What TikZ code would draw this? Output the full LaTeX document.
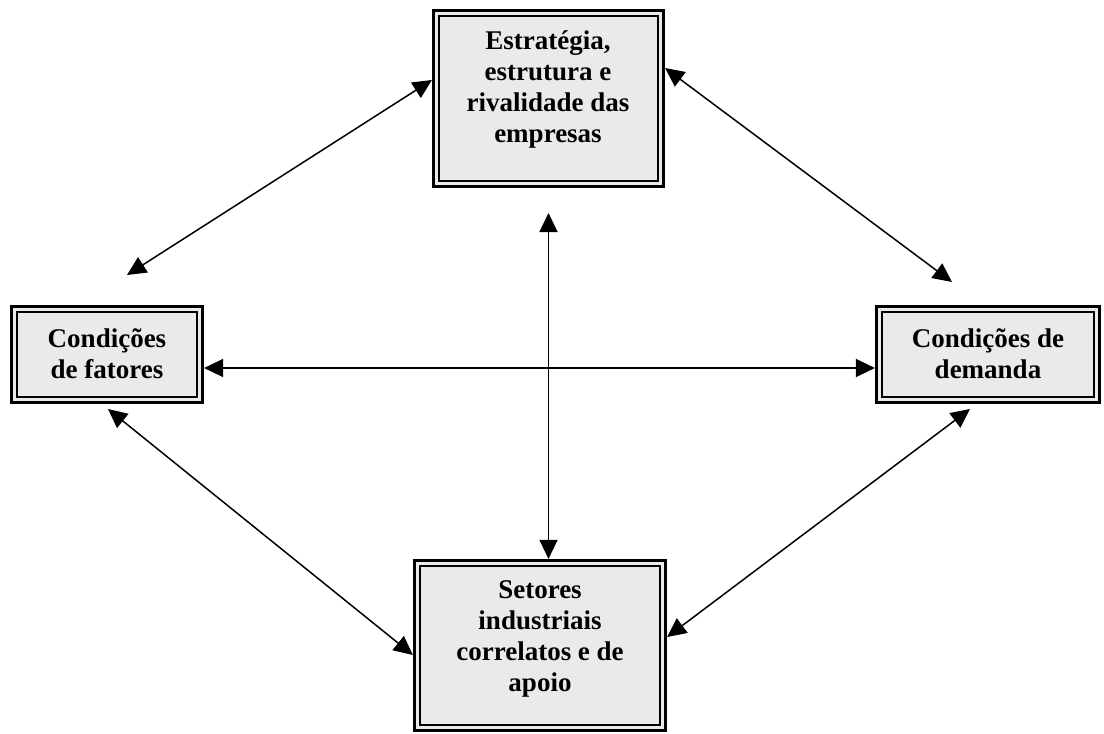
\documentclass[tikz,border=0pt]{standalone}
\usepackage{fontspec}
\setmainfont{Liberation Serif}
\usetikzlibrary{arrows.meta,calc}
\definecolor{boxgray}{RGB}{234,234,234}
\tikzset{
  box/.style={draw, line width=3.2pt, fill=boxgray, inner sep=0pt},
  innerline/.style={draw, line width=1.9pt},
  lbl/.style={align=center, inner sep=0pt,
    font=\fontsize{27pt}{31pt}\selectfont\bfseries},
  link/.style={line width=1.5pt, {Triangle[length=19pt,width=18pt]}-{Triangle[length=19pt,width=18pt]}}
}
\begin{document}
\begin{tikzpicture}[x=1pt,y=-1pt]
\useasboundingbox (0,0) rectangle (1104,734);
% boxes
\node[box, minimum width=230pt, minimum height=176pt] (top) at (548.5,98.5) {};
\node[box, minimum width=191pt, minimum height=96pt] (left) at (107,354.5) {};
\node[box, minimum width=223pt, minimum height=96pt] (right) at (988,354.5) {};
\node[box, minimum width=251pt, minimum height=170pt] (bot) at (540,645.5) {};
\foreach \n in {top,left,right,bot}
  \draw[innerline] ([shift={(6.8pt,-6.8pt)}]\n.north west) rectangle
                   ([shift={(-6.8pt,6.8pt)}]\n.south east);
% labels
\node[lbl] (toplbl) at (548,89) {Estratégia,\\estrutura e\\rivalidade das\\empresas};
\node[lbl] (leftlbl) at (107,354) {Condições\\de fatores};
\node[lbl] (rightlbl) at (988,354) {Condições de\\demanda};
\node[lbl] (botlbl) at (540,639) {Setores\\industriais\\correlatos e de\\apoio};
% free ends
\coordinate (tlfree) at (127,275);
\coordinate (trfree) at (952,282);
\coordinate (vfree) at (548.5,213);
\coordinate (blfree) at (108,409);
\coordinate (brfree) at (970,409);
% connectors
\draw[link] (tlfree) -- ([yshift=18.5pt]top.west);
\draw[link] ([yshift=30.5pt]top.east) -- (trfree);
\draw[link] ([yshift=-13.5pt]left.east) -- ([yshift=-13.5pt]right.west);
\draw[link] (vfree) -- ([xshift=8.5pt]bot.north);
\draw[link] (blfree) -- ([yshift=-9.5pt]bot.west);
\draw[link] (brfree) -- ([yshift=8.5pt]bot.east);
\end{tikzpicture}
\end{document}
